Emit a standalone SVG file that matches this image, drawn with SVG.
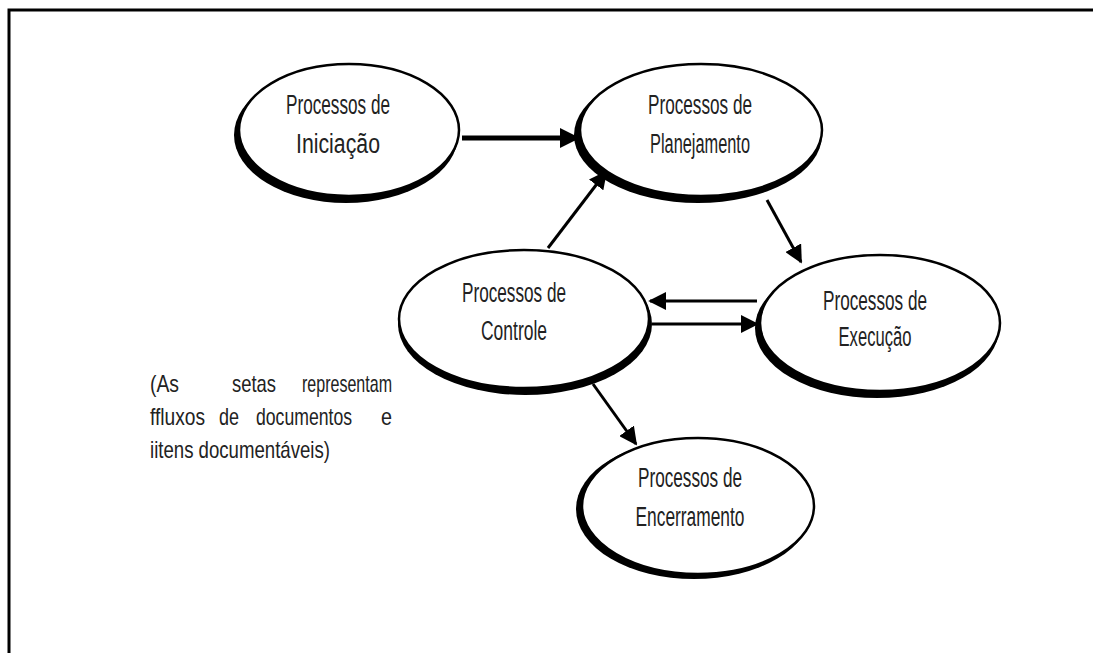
<svg xmlns="http://www.w3.org/2000/svg" width="1093" height="653" viewBox="0 0 1093 653">
<defs>
<style>
.sh{fill:#000;stroke:none}
.el{fill:#fff;stroke:#000;stroke-width:2.5}
.t{font-family:"Liberation Sans",Arial,sans-serif;font-size:27px;fill:#222;text-anchor:middle}
.n{font-family:"Liberation Sans",Arial,sans-serif;font-size:24px;fill:#222}
.c{stroke:#000;fill:none}
</style>
<marker id="ah" viewBox="0 0 10 10" refX="9" refY="5" markerWidth="6" markerHeight="6" markerUnits="strokeWidth" orient="auto"><path d="M0,0 L10,5 L0,10 z" fill="#000"/></marker>
<marker id="ahb" viewBox="0 0 10 10" refX="9" refY="5" markerWidth="4" markerHeight="4" markerUnits="strokeWidth" orient="auto"><path d="M0,0 L10,5 L0,10 z" fill="#000"/></marker>
</defs>
<rect width="1093" height="653" fill="#fff"/>
<path d="M9,653 V10 H1093" fill="none" stroke="#000" stroke-width="3"/>

<g id="connectors">
<line class="c" x1="462" y1="138" x2="578" y2="138" stroke-width="5" marker-end="url(#ahb)"/>
<line class="c" x1="548" y1="248" x2="606" y2="172" stroke-width="3" marker-end="url(#ah)"/>
<line class="c" x1="767" y1="200" x2="801" y2="262" stroke-width="3" marker-end="url(#ah)"/>
<line class="c" x1="757" y1="301" x2="650" y2="301" stroke-width="3" marker-end="url(#ah)"/>
<line class="c" x1="652" y1="324" x2="757" y2="324" stroke-width="3" marker-end="url(#ah)"/>
<line class="c" x1="593" y1="384" x2="636" y2="444" stroke-width="3" marker-end="url(#ah)"/>
</g>

<g id="iniciacao">
<ellipse class="sh" cx="346" cy="135" rx="112" ry="68"/>
<ellipse class="el" cx="349" cy="130" rx="110" ry="66"/>
<text class="t" x="338" y="114" textLength="104" lengthAdjust="spacingAndGlyphs">Processos de</text>
<text class="t" x="338" y="153" textLength="84" lengthAdjust="spacingAndGlyphs">Iniciação</text>
</g>

<g id="planejamento">
<ellipse class="sh" cx="698" cy="135" rx="124" ry="68"/>
<ellipse class="el" cx="701" cy="130" rx="121" ry="66"/>
<text class="t" x="700" y="114" textLength="104" lengthAdjust="spacingAndGlyphs">Processos de</text>
<text class="t" x="700" y="153" textLength="100" lengthAdjust="spacingAndGlyphs">Planejamento</text>
</g>

<g id="controle">
<ellipse class="sh" cx="525" cy="324" rx="127" ry="71"/>
<ellipse class="el" cx="524" cy="319" rx="125" ry="69"/>
<text class="t" x="514" y="302" textLength="104" lengthAdjust="spacingAndGlyphs">Processos de</text>
<text class="t" x="514" y="340" textLength="66" lengthAdjust="spacingAndGlyphs">Controle</text>
</g>

<g id="execucao">
<ellipse class="sh" cx="877" cy="328" rx="122" ry="70"/>
<ellipse class="el" cx="880" cy="323" rx="120" ry="68"/>
<text class="t" x="875" y="310" textLength="104" lengthAdjust="spacingAndGlyphs">Processos de</text>
<text class="t" x="875" y="346" textLength="73" lengthAdjust="spacingAndGlyphs">Execução</text>
</g>

<g id="encerramento">
<ellipse class="sh" cx="694" cy="509" rx="118" ry="70"/>
<ellipse class="el" cx="698" cy="506" rx="116" ry="68"/>
<text class="t" x="690" y="487" textLength="104" lengthAdjust="spacingAndGlyphs">Processos de</text>
<text class="t" x="690" y="526" textLength="109" lengthAdjust="spacingAndGlyphs">Encerramento</text>
</g>

<g id="nota">
<text class="n" y="392"><tspan x="150" textLength="29" lengthAdjust="spacingAndGlyphs">(As</tspan> <tspan x="232" textLength="44" lengthAdjust="spacingAndGlyphs">setas</tspan> <tspan x="302" textLength="90" lengthAdjust="spacingAndGlyphs">representam</tspan></text>
<text class="n" y="425"><tspan x="150" textLength="55" lengthAdjust="spacingAndGlyphs">ffluxos</tspan> <tspan x="219" textLength="20" lengthAdjust="spacingAndGlyphs">de</tspan> <tspan x="256" textLength="96" lengthAdjust="spacingAndGlyphs">documentos</tspan> <tspan x="381" textLength="11" lengthAdjust="spacingAndGlyphs">e</tspan></text>
<text class="n" x="150" y="458" textLength="180" lengthAdjust="spacingAndGlyphs">iitens documentáveis)</text>
</g>
</svg>
